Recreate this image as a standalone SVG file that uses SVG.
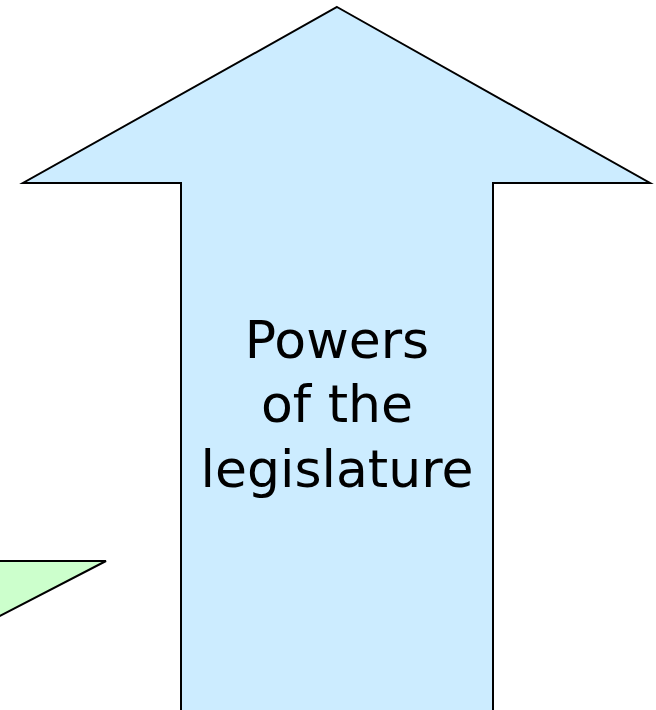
<svg xmlns="http://www.w3.org/2000/svg" width="656" height="710" viewBox="0 0 656 710">
<style>
.shape{stroke:#000;stroke-width:2;stroke-linejoin:miter}
.lbl{font-family:"DejaVu Sans",Verdana,sans-serif;font-size:52px;fill:#000;text-anchor:middle}
</style>
<rect width="656" height="710" fill="#fff"/>
<g id="green-arrow">
<polygon class="shape" fill="#CCFFCC" points="-2,561 106,561 -2,617"/>
</g>
<g id="legislature-arrow">
<polygon class="shape" fill="#CCECFF" points="337,7 650,183 493,183 493,712 181,712 181,183 23,183"/>
<text class="lbl" x="337" y="358">Powers</text>
<text class="lbl" x="337" y="422">of the</text>
<text class="lbl" x="337" y="487">legislature</text>
</g>
<g id="connectors"/>
</svg>
